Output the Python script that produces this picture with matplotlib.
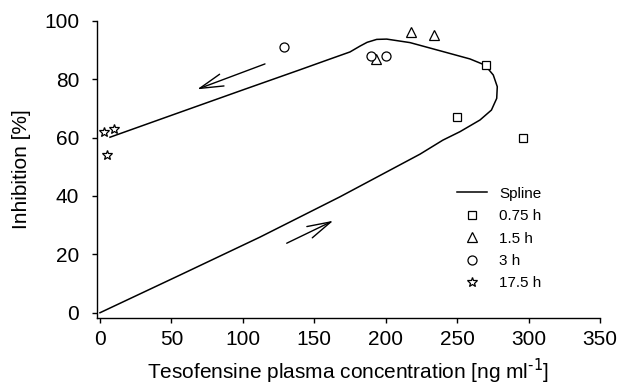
import matplotlib
matplotlib.use("Agg")
import matplotlib.pyplot as plt

plt.rcParams['font.family'] = ['Liberation Sans', 'DejaVu Sans']

# Spline (hysteresis loop), in time order
spline_x = [0, 56, 112, 168, 224, 240, 252, 266, 274, 277.7, 278.1, 275.3, 269.5,
            259, 240.3, 217, 200.7, 193.7, 187, 182, 175, 160, 140, 100, 50, 7]
spline_y = [0, 12.9, 25.9, 39.7, 54.3, 59.1, 62.0, 66.0, 69.4, 73.4, 77.4, 81.4, 84.8,
            86.9, 89.4, 92.5, 93.7, 93.6, 92.6, 91.3, 89.3, 86.7, 83.2, 76.3, 67.6, 60.1]

# Observations
sq_x = [270, 250, 296]          # 0.75 h
sq_y = [85, 67, 60]
tri_x = [193, 218, 234]         # 1.5 h
tri_y = [87, 96, 95]
circ_x = [128.5, 190, 200]      # 3 h
circ_y = [91, 88, 88]
star_x = [3, 10, 5]             # 17.5 h
star_y = [62, 63, 54]

# Arrows (tail -> head)
arrow_upper = [(115.5, 85.2), (68.0, 76.5)]
arrow_lower = [(130.7, 23.8), (163.3, 31.5)]

xticks = [0, 50, 100, 150, 200, 250, 300, 350]
yticks = [0, 20, 40, 60, 80, 100]

fig = plt.figure(figsize=(6.2, 3.83), dpi=100)
ax = fig.add_axes([96.7/620, 1-317.7/383, (600-96.7)/620, (317.7-20.7)/383])

ax.plot(spline_x, spline_y, color='black', lw=1.1, label='Spline')
mk = dict(linestyle='none', mfc='white', mec='black', mew=0.9)
ax.plot(sq_x, sq_y, marker='s', ms=6, label='0.75 h', **mk)
ax.plot(tri_x, tri_y, marker='^', ms=6.5, label='1.5 h', **mk)
ax.plot(circ_x, circ_y, marker='o', ms=6.5, label='3 h', **mk)
ax.plot(star_x, star_y, marker='*', ms=7, label='17.5 h', **mk)

for (t, h) in (arrow_upper, arrow_lower):
    ax.annotate('', xy=h, xytext=t,
                arrowprops=dict(arrowstyle='->,head_length=1.7,head_width=0.45',
                                mutation_scale=10, lw=1.0, color='black',
                                shrinkA=0, shrinkB=0))

ax.set_xlim(-2.3, 350)
ax.set_ylim(-1.7, 100)
ax.set_xticks(xticks)
ax.set_yticks(yticks)
for s in ('top', 'right'):
    ax.spines[s].set_visible(False)
for s in ('left', 'bottom'):
    ax.spines[s].set_linewidth(1.0)
ax.tick_params(direction='out', length=3.5, width=1.0, labelsize=15)
ax.tick_params(axis='x', pad=5)
ax.tick_params(axis='y', pad=9)

ax.set_xlabel(r'Tesofensine plasma concentration [ng ml$^{\text{-1}}$]', fontsize=15)
ax.xaxis.set_label_coords(0.5, -0.132)
ax.set_ylabel('Inhibition [%]', fontsize=15)
ax.yaxis.set_label_coords(-0.13, 0.5)

ax.legend(loc='upper left', bbox_to_anchor=((456.7-96.7)/503.3, (317.7-186.7)/297),
          frameon=False, fontsize=11, handlelength=2.0, handletextpad=0.8,
          labelspacing=0.55, borderpad=0, borderaxespad=0)

fig.savefig('out.png', dpi=100)
